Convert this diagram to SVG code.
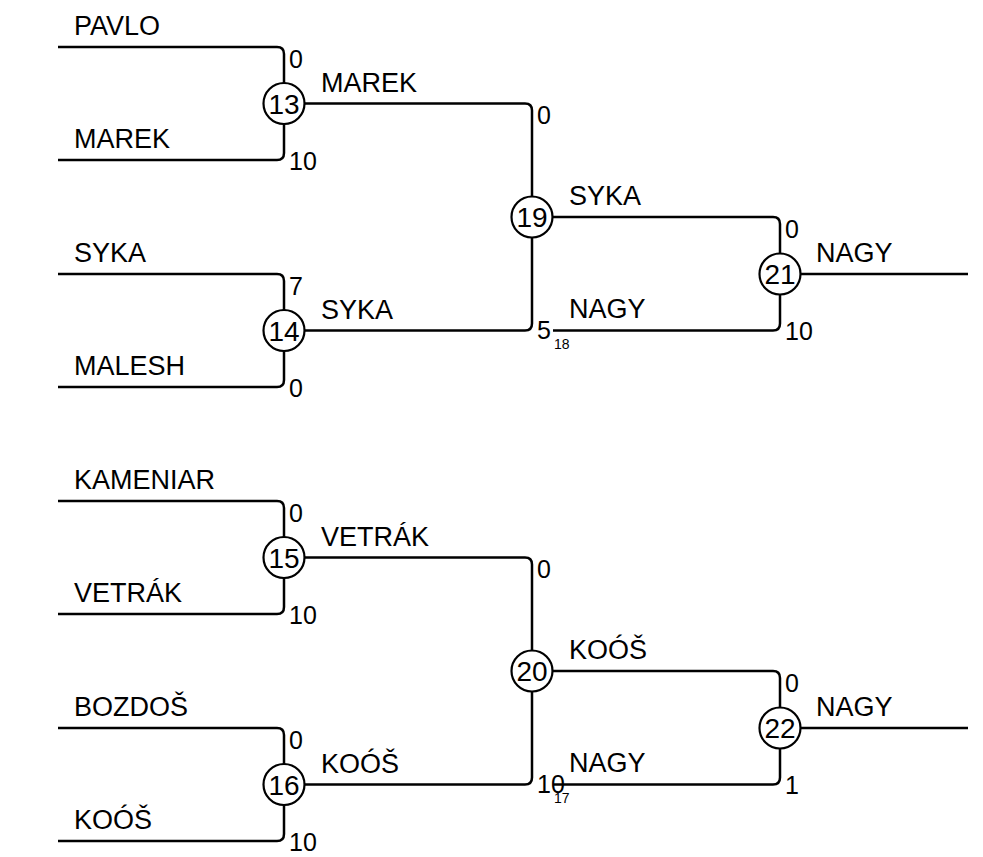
<svg xmlns="http://www.w3.org/2000/svg" width="983" height="857" viewBox="0 0 983 857">
<style>
.ln{fill:none;stroke:#000;stroke-width:2.5}
.c{fill:#fff;stroke:#000;stroke-width:2.2}
text{font-family:"Liberation Sans",Arial,sans-serif;font-size:27px;fill:#000}
.n{text-anchor:middle;font-size:28px}
.sc{font-size:25px}
.s{font-size:14px}
</style>
<rect width="983" height="857" fill="#fff"/>
<g id="connectors">
<path class="ln" d="M58,47 H277 Q284,47 284,54 V83 M58,160 H277 Q284,160 284,153 V124"/>
<path class="ln" d="M58,274 H277 Q284,274 284,281 V310 M58,387 H277 Q284,387 284,380 V351"/>
<path class="ln" d="M304.5,103.5 H525 Q532,103.5 532,110.5 V196.5 M304.5,330.5 H525 Q532,330.5 532,323.5 V237.5"/>
<path class="ln" d="M552.5,217 H773 Q780,217 780,224 V253.5 M553,330.5 H773 Q780,330.5 780,323.5 V294.5 M800.5,274 H968"/>
<path class="ln" d="M58,501 H277 Q284,501 284,508 V537 M58,614 H277 Q284,614 284,607 V578"/>
<path class="ln" d="M58,728 H277 Q284,728 284,735 V764 M58,841 H277 Q284,841 284,834 V805"/>
<path class="ln" d="M304.5,557.5 H525 Q532,557.5 532,564.5 V650.5 M304.5,784.5 H525 Q532,784.5 532,777.5 V691.5"/>
<path class="ln" d="M552.5,671 H773 Q780,671 780,678 V707.5 M553,784.5 H773 Q780,784.5 780,777.5 V748.5 M800.5,728 H968"/>
</g>
<g id="labels">
<text x="74" y="35">PAVLO</text>
<text x="74" y="148">MAREK</text>
<text x="74" y="262">SYKA</text>
<text x="74" y="375">MALESH</text>
<text x="321" y="92">MAREK</text>
<text x="321" y="319">SYKA</text>
<text x="569" y="205">SYKA</text>
<text x="569" y="318">NAGY</text>
<text x="816" y="262">NAGY</text>
<text class="sc" x="289" y="68">0</text>
<text class="sc" x="289" y="170">10</text>
<text class="sc" x="289" y="295">7</text>
<text class="sc" x="289" y="397">0</text>
<text class="sc" x="537" y="124">0</text>
<text class="sc" x="537" y="339">5</text>
<text class="s" x="554" y="349">18</text>
<text class="sc" x="785" y="238">0</text>
<text class="sc" x="785" y="340">10</text>
<text x="74" y="489">KAMENIAR</text>
<text x="74" y="602">VETRÁK</text>
<text x="74" y="716">BOZDOŠ</text>
<text x="74" y="829">KOÓŠ</text>
<text x="321" y="546">VETRÁK</text>
<text x="321" y="773">KOÓŠ</text>
<text x="569" y="659">KOÓŠ</text>
<text x="569" y="772">NAGY</text>
<text x="816" y="716">NAGY</text>
<text class="sc" x="289" y="522">0</text>
<text class="sc" x="289" y="624">10</text>
<text class="sc" x="289" y="749">0</text>
<text class="sc" x="289" y="851">10</text>
<text class="sc" x="537" y="578">0</text>
<text class="sc" x="537" y="793">10</text>
<text class="s" x="554" y="803">17</text>
<text class="sc" x="785" y="692">0</text>
<text class="sc" x="785" y="794">1</text>
</g>
<g id="n13"><circle class="c" cx="284" cy="103.5" r="20.5"/><text class="n" x="284" y="113.5">13</text></g>
<g id="n14"><circle class="c" cx="284" cy="330.5" r="20.5"/><text class="n" x="284" y="340.5">14</text></g>
<g id="n19"><circle class="c" cx="532" cy="217" r="20.5"/><text class="n" x="532" y="227">19</text></g>
<g id="n21"><circle class="c" cx="780" cy="274" r="20.5"/><text class="n" x="780" y="284">21</text></g>
<g id="n15"><circle class="c" cx="284" cy="557.5" r="20.5"/><text class="n" x="284" y="567.5">15</text></g>
<g id="n16"><circle class="c" cx="284" cy="784.5" r="20.5"/><text class="n" x="284" y="794.5">16</text></g>
<g id="n20"><circle class="c" cx="532" cy="671" r="20.5"/><text class="n" x="532" y="681">20</text></g>
<g id="n22"><circle class="c" cx="780" cy="728" r="20.5"/><text class="n" x="780" y="738">22</text></g>
</svg>
